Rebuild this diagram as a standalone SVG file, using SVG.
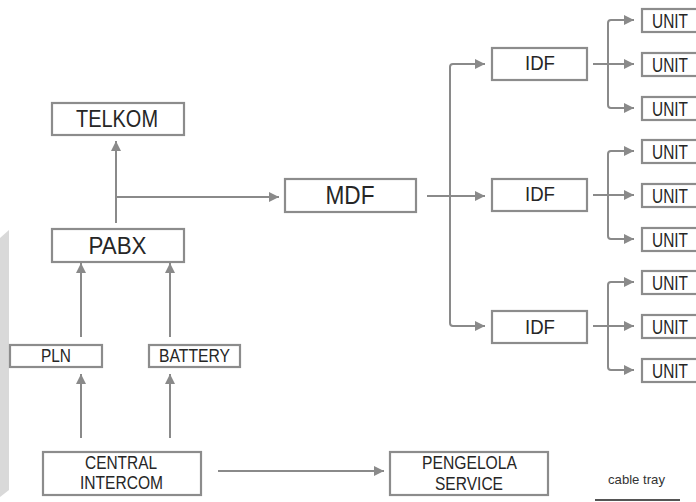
<svg xmlns="http://www.w3.org/2000/svg" width="696" height="502" viewBox="0 0 696 502">
<defs>
<marker id="ah" markerUnits="userSpaceOnUse" markerWidth="11" markerHeight="10" refX="10" refY="5" orient="auto"><path d="M0,0 L10,5 L0,10 z" fill="#8a8a8a"/></marker>
<style>
.box{fill:#fff;stroke:#8c8c8c;stroke-width:2.2}
.t{font-family:"Liberation Sans",Arial,sans-serif;fill:#262626;text-anchor:middle}
.u{font-family:"Liberation Sans",Arial,sans-serif;fill:#262626;font-size:19.5px}
.ln{fill:none;stroke:#8a8a8a;stroke-width:2}
.ar{fill:none;stroke:#8a8a8a;stroke-width:2;marker-end:url(#ah)}
</style>
</defs>
<rect width="696" height="502" fill="#fff"/>
<polygon points="0,238 9,230 9,490 0,497" fill="#d9d9d9"/>
<g id="connectors">
<path class="ar" d="M116,223 V141"/>
<path class="ar" d="M116,197 H279"/>
<path class="ar" d="M81,337 V263"/>
<path class="ar" d="M170,337 V263"/>
<path class="ar" d="M81,438 V374"/>
<path class="ar" d="M170,438 V374"/>
<path class="ar" d="M218,471 H384"/>
<path class="ar" d="M427,196 H485"/>
<path class="ar" d="M450,196 V67 Q450,64 453,64 H485"/>
<path class="ar" d="M450,196 V323 Q450,326 453,326 H485"/>
<path class="ar" d="M593,64 H634"/>
<path class="ar" d="M608,64 V23 Q608,20 611,20 H634"/>
<path class="ar" d="M608,64 V105 Q608,108 611,108 H634"/>
<path class="ar" d="M593,195 H634"/>
<path class="ar" d="M608,195 V154 Q608,151 611,151 H634"/>
<path class="ar" d="M608,195 V236 Q608,239 611,239 H634"/>
<path class="ar" d="M593,326 H634"/>
<path class="ar" d="M608,326 V285 Q608,282 611,282 H634"/>
<path class="ar" d="M608,326 V367 Q608,370 611,370 H634"/>
</g>
<g id="telkom"><rect class="box" x="52" y="103" width="132" height="32"/><text class="t" x="117" y="126.5" font-size="23" textLength="82" lengthAdjust="spacingAndGlyphs">TELKOM</text></g>
<g id="pabx"><rect class="box" x="52" y="229" width="132" height="33"/><text class="t" x="117.5" y="254" font-size="23.5" textLength="58" lengthAdjust="spacingAndGlyphs">PABX</text></g>
<g id="mdf"><rect class="box" x="285" y="179" width="131" height="33"/><text class="t" x="350" y="204" font-size="25" textLength="49" lengthAdjust="spacingAndGlyphs">MDF</text></g>
<g id="idf1"><rect class="box" x="492" y="48" width="95" height="32"/><text class="t" x="540" y="69.5" font-size="20" textLength="30" lengthAdjust="spacingAndGlyphs">IDF</text></g>
<g id="idf2"><rect class="box" x="492" y="179" width="95" height="32"/><text class="t" x="540" y="200.5" font-size="20" textLength="30" lengthAdjust="spacingAndGlyphs">IDF</text></g>
<g id="idf3"><rect class="box" x="492" y="311" width="95" height="32"/><text class="t" x="540" y="333.5" font-size="20" textLength="30" lengthAdjust="spacingAndGlyphs">IDF</text></g>
<g id="unit1"><rect class="box" x="642" y="9" width="70" height="23"/><text class="u" x="652" y="27.5" textLength="36" lengthAdjust="spacingAndGlyphs">UNIT</text></g>
<g id="unit2"><rect class="box" x="642" y="53" width="70" height="23"/><text class="u" x="652" y="71.5" textLength="36" lengthAdjust="spacingAndGlyphs">UNIT</text></g>
<g id="unit3"><rect class="box" x="642" y="97" width="70" height="23"/><text class="u" x="652" y="115.5" textLength="36" lengthAdjust="spacingAndGlyphs">UNIT</text></g>
<g id="unit4"><rect class="box" x="642" y="140" width="70" height="23"/><text class="u" x="652" y="158.5" textLength="36" lengthAdjust="spacingAndGlyphs">UNIT</text></g>
<g id="unit5"><rect class="box" x="642" y="184" width="70" height="23"/><text class="u" x="652" y="202.5" textLength="36" lengthAdjust="spacingAndGlyphs">UNIT</text></g>
<g id="unit6"><rect class="box" x="642" y="228" width="70" height="23"/><text class="u" x="652" y="246.5" textLength="36" lengthAdjust="spacingAndGlyphs">UNIT</text></g>
<g id="unit7"><rect class="box" x="642" y="271" width="70" height="23"/><text class="u" x="652" y="289.5" textLength="36" lengthAdjust="spacingAndGlyphs">UNIT</text></g>
<g id="unit8"><rect class="box" x="642" y="315" width="70" height="23"/><text class="u" x="652" y="333.5" textLength="36" lengthAdjust="spacingAndGlyphs">UNIT</text></g>
<g id="unit9"><rect class="box" x="642" y="359" width="70" height="23"/><text class="u" x="652" y="377.5" textLength="36" lengthAdjust="spacingAndGlyphs">UNIT</text></g>
<g id="pln"><rect class="box" x="10" y="345" width="92" height="22"/><text class="t" x="56" y="362" font-size="17.5" textLength="30" lengthAdjust="spacingAndGlyphs">PLN</text></g>
<g id="battery"><rect class="box" x="149" y="345" width="91" height="22"/><text class="t" x="194.5" y="362" font-size="17.5" textLength="71" lengthAdjust="spacingAndGlyphs">BATTERY</text></g>
<g id="central"><rect class="box" x="43" y="452" width="158" height="43"/><text class="t" x="121" y="469" font-size="17.5" textLength="72" lengthAdjust="spacingAndGlyphs">CENTRAL</text><text class="t" x="121.5" y="489" font-size="17.5" textLength="83" lengthAdjust="spacingAndGlyphs">INTERCOM</text></g>
<g id="pengelola"><rect class="box" x="390" y="452" width="158" height="43"/><text class="t" x="469.5" y="469" font-size="17.5" textLength="95" lengthAdjust="spacingAndGlyphs">PENGELOLA</text><text class="t" x="469" y="490" font-size="17.5" textLength="68" lengthAdjust="spacingAndGlyphs">SERVICE</text></g>
<g id="legend"><text x="608" y="484" font-family="Liberation Sans, Arial, sans-serif" font-size="13.5" fill="#333" textLength="57" lengthAdjust="spacingAndGlyphs">cable tray</text><line x1="595" y1="500" x2="680" y2="500" stroke="#555" stroke-width="2"/></g>
</svg>
